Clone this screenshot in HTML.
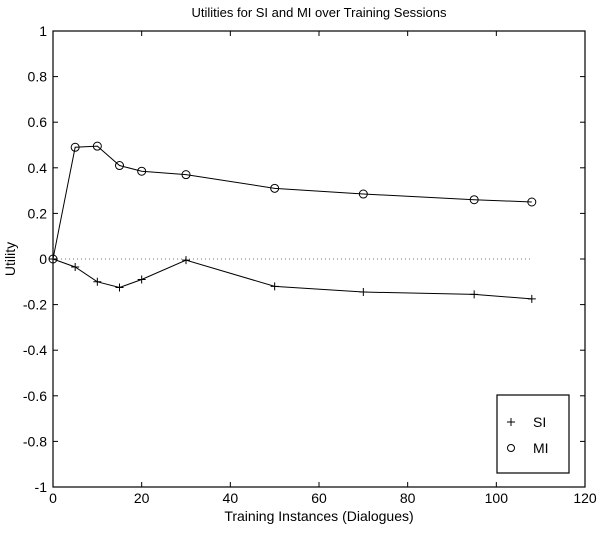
<!DOCTYPE html>
<html><head><meta charset="utf-8"><style>
body{margin:0;background:#fff}
svg text{font-family:"Liberation Sans",sans-serif;fill:#000}
</style></head><body>
<svg id="chart" width="601" height="529" viewBox="0 0 601 529" xmlns="http://www.w3.org/2000/svg">
<rect width="601" height="529" fill="#fff"/>
<g id="g"></g>
</svg>
<script>
const xVals=[0,5,10,15,20,30,50,70,95,108];
const siVals=[0,-0.035,-0.1,-0.125,-0.09,-0.005,-0.12,-0.145,-0.155,-0.175];
const miVals=[0,0.49,0.495,0.41,0.385,0.37,0.31,0.285,0.26,0.25];
const xTicks=[0,20,40,60,80,100,120];
const yTicks=[-1,-0.8,-0.6,-0.4,-0.2,0,0.2,0.4,0.6,0.8,1];
const L=53,R=585,T=31,B=487;
const sx=v=>L+(v-0)/120*(R-L);
const sy=v=>B-(v+1)/2*(B-T);
const NS="http://www.w3.org/2000/svg";
const g=document.getElementById('g');
function mk(t,a,p){const e=document.createElementNS(NS,t);for(const k in a)e.setAttribute(k,a[k]);(p||g).appendChild(e);return e;}
let e;
e=mk('rect',{x:L,y:T,width:R-L,height:B-T,fill:'none',stroke:'#000','stroke-width':1.2});


xTicks.forEach(t=>{const x=sx(t);
 mk('line',{x1:x,x2:x,y1:B,y2:B-5,stroke:'#000'});mk('line',{x1:x,x2:x,y1:T,y2:T+5,stroke:'#000'});
 e=mk('text',{x:x,y:B+16,'font-size':14,'text-anchor':'middle'});e.textContent=t;
 
 });
yTicks.forEach(t=>{const y=sy(t);
 mk('line',{x1:L,x2:L+5,y1:y,y2:y,stroke:'#000'});mk('line',{x1:R,x2:R-5,y1:y,y2:y,stroke:'#000'});
 e=mk('text',{x:L-6,y:y+5,'font-size':14,'text-anchor':'end'});e.textContent=String(t);
 
 });
e=mk('line',{x1:sx(0),x2:sx(108),y1:sy(0),y2:sy(0),stroke:'#777','stroke-dasharray':'1,3'});


function series(vals,name,marker){
 const pts=xVals.map((x,i)=>sx(x)+','+sy(vals[i])).join(' ');
 e=mk('polyline',{points:pts,fill:'none',stroke:'#000','stroke-width':1});
 
 
 xVals.forEach((x,i)=>{const cx=sx(x),cy=sy(vals[i]);
  if(marker==='o'){e=mk('circle',{cx:cx,cy:cy,r:4,fill:'none',stroke:'#000'});}
  else{e=mk('path',{d:`M${cx-4},${cy}H${cx+4}M${cx},${cy-4}V${cy+4}`,stroke:'#000'});}
  
  });
}
series(siVals,'si','+');
series(miVals,'mi','o');
e=mk('text',{x:319,y:17,'font-size':13,'text-anchor':'middle'});e.textContent='Utilities for SI and MI over Training Sessions';


e=mk('text',{x:319,y:521,'font-size':14,'text-anchor':'middle'});e.textContent='Training Instances (Dialogues)';


e=mk('text',{x:0,y:0,'font-size':14,'text-anchor':'middle',transform:'translate(15,259) rotate(-90)'});e.textContent='Utility';


const lg=mk('g',{});


mk('rect',{x:497,y:395,width:72,height:78,fill:'#fff',stroke:'#000','stroke-width':1.2},lg);
mk('path',{d:'M507,422H515M511,418V426',stroke:'#000'},lg);
mk('circle',{cx:511,cy:448,r:3.5,fill:'none',stroke:'#000'},lg);
e=mk('text',{x:533,y:427,'font-size':14},lg);e.textContent='SI';


e=mk('text',{x:533,y:453,'font-size':14},lg);e.textContent='MI';


</script>
</body></html>
